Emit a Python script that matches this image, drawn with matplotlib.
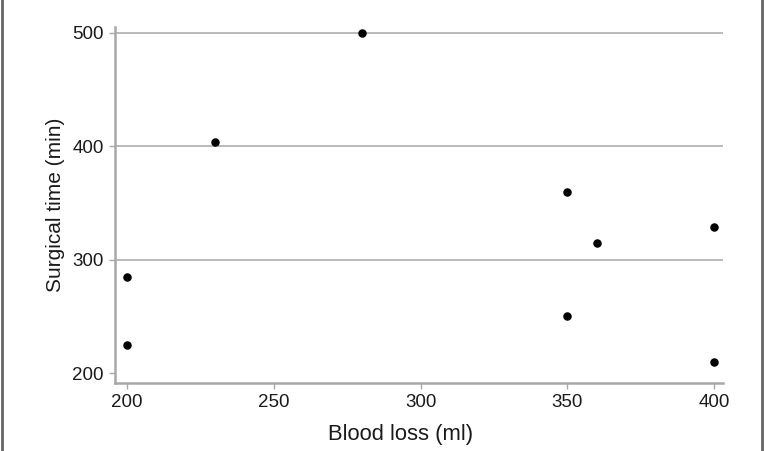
import matplotlib
matplotlib.use("Agg")
import matplotlib.pyplot as plt
from matplotlib.lines import Line2D

# data
blood_loss = [200, 200, 230, 280, 350, 350, 360, 400, 400]
surgical_time = [285, 225, 404, 500, 360, 250, 315, 329, 210]

x_ticks = [200, 250, 300, 350, 400]
y_ticks = [200, 300, 400, 500]
grid_levels = [300, 400, 500]

plt.rcParams["font.family"] = ["Liberation Sans", "DejaVu Sans"]

fig = plt.figure(figsize=(7.64, 4.51), dpi=100)
ax = fig.add_axes([0.1505, 0.1508, 0.7958, 0.789])

for level in grid_levels:
    ax.axhline(level, color="#b4b4b4", linewidth=1.3, zorder=1)

ax.scatter(blood_loss, surgical_time, s=26, color="black", zorder=3)

ax.set_xlim(195.9, 403)
ax.set_ylim(191.2, 505)
ax.set_xticks(x_ticks)
ax.set_yticks(y_ticks)

for side in ["top", "right"]:
    ax.spines[side].set_visible(False)
for side in ["left", "bottom"]:
    ax.spines[side].set_color("#a8a8a8")
    ax.spines[side].set_linewidth(1.8)

ax.tick_params(axis="both", direction="out", length=4, width=1,
               color="#a8a8a8", labelsize=13.5, labelcolor="#1a1a1a", pad=4)

ax.set_xlabel("Blood loss (ml)", fontsize=15.8, color="#1a1a1a", labelpad=9)
ax.xaxis.label.set_x(0.469)
ax.set_ylabel("Surgical time (min)", fontsize=15, color="#1a1a1a", labelpad=5)

# gray frame lines on the left and right of the figure
fig.add_artist(Line2D([0.002, 0.002], [0, 1], transform=fig.transFigure,
                      color="#666666", linewidth=2))
fig.add_artist(Line2D([0.998, 0.998], [0, 1], transform=fig.transFigure,
                      color="#666666", linewidth=2))

fig.savefig("out.png", dpi=100)
